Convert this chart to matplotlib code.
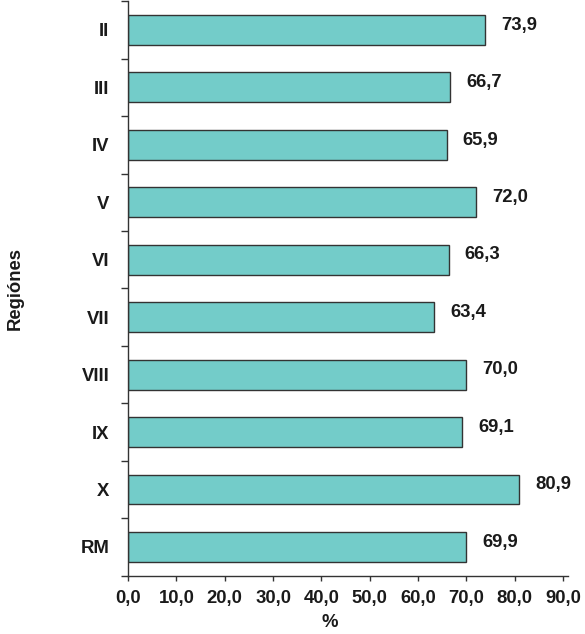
import numpy as np
import matplotlib.pyplot as plt
from matplotlib.ticker import FixedLocator, FuncFormatter

# data
regiones = ["II", "III", "IV", "V", "VI", "VII", "VIII", "IX", "X", "RM"]
valores = [73.9, 66.7, 65.9, 72.0, 66.3, 63.4, 70.0, 69.1, 80.9, 69.9]
xticks = [0, 10, 20, 30, 40, 50, 60, 70, 80, 90]

bar_color = "#73ccc9"
edge_color = "#333333"
text_color = "#1a1a1a"
font = "Liberation Sans"
fsize = 13.3

fig = plt.figure(figsize=(5.85, 6.34), dpi=100)
ax = fig.add_axes([0.2188, 0.092, 0.752, 0.906])

y = np.arange(len(regiones))
ax.barh(y, valores, height=0.52, color=bar_color, edgecolor=edge_color, linewidth=1.0, zorder=2)

for yi, v in zip(y, valores):
    ax.annotate(f"{v:.1f}".replace(".", ","), xy=(v, yi), xytext=(11.5, 3.5),
                textcoords="offset points", ha="left", va="center",
                fontsize=fsize, fontweight="bold", family=font, color=text_color)

ax.set_ylim(len(regiones) - 0.5, -0.5)
ax.set_xlim(0, 91)

ax.set_yticks(y)
ax.set_yticklabels(regiones)
ax.yaxis.set_minor_locator(FixedLocator(np.arange(-0.5, len(regiones), 1.0)))
ax.tick_params(axis="y", which="major", length=0, pad=13.5)
ax.tick_params(axis="y", which="minor", length=5.4, width=1.0, color=edge_color, direction="out")

ax.set_xticks(xticks)
ax.xaxis.set_major_formatter(FuncFormatter(lambda v, p: f"{v:.1f}".replace(".", ",")))
ax.tick_params(axis="x", length=3.5, width=1.0, color=edge_color, direction="out", pad=6.5)

for lab in ax.get_xticklabels() + ax.get_yticklabels():
    lab.set_fontsize(fsize)
    lab.set_fontweight("bold")
    lab.set_family(font)
    lab.set_color(text_color)

for s in ["top", "right"]:
    ax.spines[s].set_visible(False)
for s in ["left", "bottom"]:
    ax.spines[s].set_color(edge_color)
    ax.spines[s].set_linewidth(1.0)

ax.set_xlabel("%", fontsize=fsize, fontweight="bold", family=font, color=text_color)
ax.xaxis.set_label_coords(0.459, -0.066)
ax.set_ylabel("Regiónes", fontsize=fsize, fontweight="bold", family=font, color=text_color)
ax.yaxis.set_label_coords(-0.236, 0.5)

fig.savefig("out.png", dpi=100)
